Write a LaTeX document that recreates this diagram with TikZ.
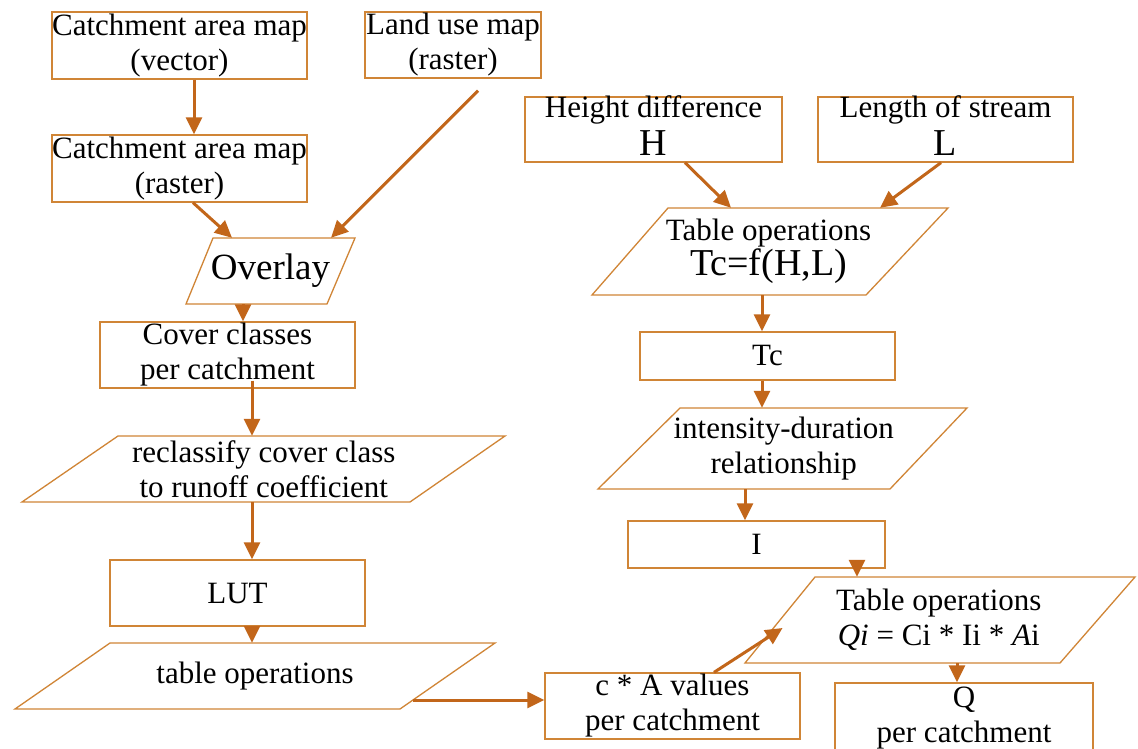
\documentclass[tikz,border=0pt]{standalone}
\usepackage{fontspec}
\setmainfont{Liberation Serif}
\usetikzlibrary{arrows.meta,calc}
\definecolor{brd}{HTML}{D08536}
\definecolor{arc}{HTML}{C2661A}
\newcommand\myfs{\fontsize{31}{35}\selectfont}
\newcommand\mybig{\fontsize{38}{38}\selectfont}
\begin{document}
\begin{tikzpicture}[x=1pt,y=-1pt,
  box/.style={draw=brd,line width=1.3pt,inner sep=0pt,align=center,font=\myfs},
  txt/.style={inner sep=0pt,align=center,font=\myfs},
  shp/.style={draw=brd,line width=1.3pt},
  arr/.style={draw=arc,line width=3pt,-{Triangle[length=17pt,width=16pt]}}]
\useasboundingbox (0,0) rectangle (1138,749);
\fill[white] (0,0) rectangle (1138,749);
% left column
\node[box,minimum width=255pt,minimum height=67pt] (A) at (179.5,45.5) {Catchment area map\\(vector)};
\node[box,minimum width=176pt,minimum height=66pt] (land) at (453,45) {Land use map\\(raster)};
\node[box,minimum width=255pt,minimum height=67pt] (C) at (179.5,168.5) {Catchment area map\\(raster)};
\draw[shp] (213,238) -- (355,238) -- (327,304) -- (186,304) -- cycle;
\node[txt,minimum width=142pt,minimum height=66pt] (ovl) at (270.5,271) {\fontsize{37}{38}\selectfont Overlay};
\node[box,minimum width=255pt,minimum height=66pt] (cov) at (227.5,355) {Cover classes\\per catchment};
\draw[shp] (118,436) -- (505,436) -- (410,502) -- (22,502) -- cycle;
\node[txt,minimum width=387pt,minimum height=66pt] (recl) at (263.75,469) {reclassify cover class\\to runoff coefficient};
\node[box,minimum width=255pt,minimum height=66pt] (lut) at (237.5,593) {LUT};
\draw[shp] (110,643) -- (495,643) -- (400,709) -- (15,709) -- cycle;
\node[txt,minimum width=385pt,minimum height=66pt] (tab) at (255,676) {table operations};
\node[box,minimum width=255pt,minimum height=66pt] (cA) at (672.5,706) {c * A values\\per catchment};
% right column
\node[box,minimum width=257pt,minimum height=65pt] (H) at (653.5,129.5) {};
\node[txt,anchor=base] (Ht) at (653.5,118) {Height difference};
\node[txt,anchor=base] (Hv) at (653.5,156) {\mybig H};
\node[box,minimum width=255pt,minimum height=65pt] (L) at (945.5,129.5) {};
\node[txt,anchor=base] (Lt) at (945.5,118) {Length of stream};
\node[txt,anchor=base] (Lv) at (945.5,156) {\mybig L};
\draw[shp] (668,208) -- (948,208) -- (866,295) -- (592,295) -- cycle;
\node[txt,minimum width=280pt,minimum height=87pt] (tcf) at (768.5,251.5) {Table operations\\{\mybig Tc=f(H,L)}};
\node[box,minimum width=255pt,minimum height=48pt] (tc) at (767.5,356) {Tc};
\draw[shp] (680,408) -- (967,408) -- (890,489) -- (598,489) -- cycle;
\node[txt,minimum width=287pt,minimum height=81pt] (int) at (783.75,448.5) {intensity-duration\\relationship};
\node[box,minimum width=257pt,minimum height=47pt] (I) at (756.5,544.5) {I};
\draw[shp] (815,577) -- (1135,577) -- (1060,663) -- (745,663) -- cycle;
\node[txt,minimum width=318pt,minimum height=86pt] (qi) at (938.75,620) {Table operations\\\textit{Qi} = Ci * Ii * \textit{A}i};
\node[box,minimum width=258pt,minimum height=70pt] (Q) at (964,718) {Q\\per catchment};
% connectors
\draw[arr] ($(A.south)+(14.5,0)$) -- ($(C.north)+(14.5,0)$);
\draw[arr] ($(C.south)+(13.5,0)$) -- ($(ovl.north)+(-38.5,0)$);
\draw[arr] ($(land.south)+(25,12)$) -- ($(ovl.north)+(60.5,0)$);
\draw[arr] ($(ovl.south)+(-27.5,0)$) -- ($(cov.north)+(15.5,0)$);
\draw[arr] ($(cov.south)+(24.5,-8)$) -- ($(recl.north)+(-11.75,0)$);
\draw[arr] ($(recl.south)+(-11.75,0)$) -- ($(lut.north)+(14.5,0)$);
\draw[arr] ($(lut.south)+(14.5,0)$) -- ($(tab.north)+(-3,0)$);
\draw[arr] ($(tab.east)+(-35,24)$) -- ($(cA.west)+(0,-6)$);
\draw[arr] ($(cA.north)+(41.5,0)$) -- ($(qi.west)+(3,8)$);
\draw[arr] ($(H.south)+(31.5,0)$) -- ($(tcf.north)+(-37.5,0)$);
\draw[arr] ($(L.south)+(-4.5,0)$) -- ($(tcf.north)+(111.5,0)$);
\draw[arr] ($(tcf.south)+(-6.5,0)$) -- ($(tc.north)+(-5.5,0)$);
\draw[arr] ($(tc.south)+(-5.5,0)$) -- ($(int.north)+(-21.75,0)$);
\draw[arr] ($(int.south)+(-38.75,0)$) -- ($(I.north)+(-11.5,0)$);
\draw[arr] ($(I.south)+(100.5,-8)$) -- ($(qi.north)+(-81.75,0)$);
\draw[arr] ($(qi.south)+(18.25,0)$) -- ($(Q.north)+(-7,0)$);
\end{tikzpicture}
\end{document}
